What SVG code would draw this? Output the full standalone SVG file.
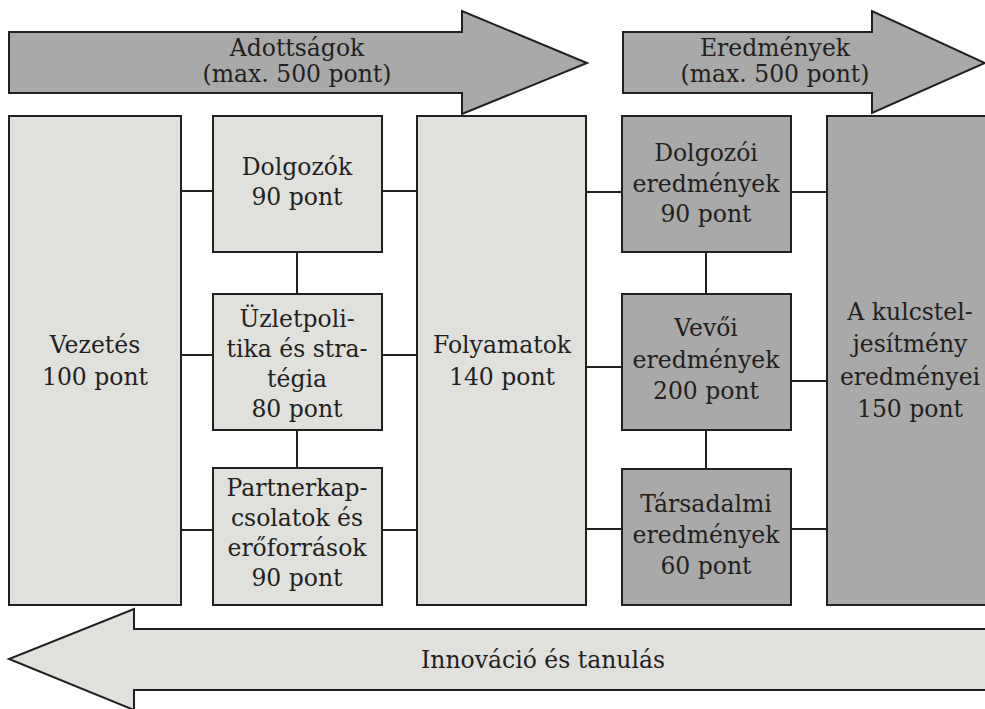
<svg xmlns="http://www.w3.org/2000/svg" width="985" height="709" viewBox="0 0 985 709">
<style>
.dk{fill:#a9a9a9;stroke:#231f20;stroke-width:2}
.lt{fill:#e0e0dd;stroke:#231f20;stroke-width:2}
.ln{stroke:#231f20;stroke-width:2;fill:none}
text{font-family:"DejaVu Serif","Liberation Serif",serif;font-size:23.5px;fill:#231f20;text-anchor:middle}
</style>
<rect width="985" height="709" fill="#ffffff"/>
<g id="arrow-adottsagok">
<polygon class="dk" points="9,32 462,32 462,11 587,63 462,114 462,93 9,93"/>
<text x="297" y="56">Adottságok</text>
<text x="297" y="82">(max. 500 pont)</text>
</g>
<g id="arrow-eredmenyek">
<polygon class="dk" points="623,32 872,32 872,11 985,63 872,113 872,93 623,93"/>
<text x="775" y="56">Eredmények</text>
<text x="775" y="82">(max. 500 pont)</text>
</g>
<g id="arrow-innovacio">
<polygon class="lt" points="990,629 134,629 134,609 9,659 134,710 134,690 990,690"/>
<text x="543" y="668">Innováció és tanulás</text>
</g>
<g id="connectors">
<path class="ln" d="M181,191H213M181,355H213M181,530H213M382,191H417M382,355H417M382,530H417M586,192H622M586,367H622M586,529H622M791,192H827M791,381H827M791,529H827M297,252V294M297,430V468M706,252V294M706,430V469"/>
</g>
<g id="vezetes">
<rect class="lt" x="9" y="116" width="172" height="489"/>
<text x="95" y="353">Vezetés</text>
<text x="95" y="385">100 pont</text>
</g>
<g id="dolgozok">
<rect class="lt" x="213" y="116" width="169" height="136"/>
<text x="297" y="175">Dolgozók</text>
<text x="297" y="205">90 pont</text>
</g>
<g id="uzletpolitika">
<rect class="lt" x="213" y="294" width="169" height="136"/>
<text x="297" y="327">Üzletpoli-</text>
<text x="297" y="357">tika és stra-</text>
<text x="297" y="387">tégia</text>
<text x="297" y="417">80 pont</text>
</g>
<g id="partnerkapcsolatok">
<rect class="lt" x="213" y="468" width="169" height="137"/>
<text x="297" y="496">Partnerkap-</text>
<text x="297" y="526">csolatok és</text>
<text x="297" y="556">erőforrások</text>
<text x="297" y="586">90 pont</text>
</g>
<g id="folyamatok">
<rect class="lt" x="417" y="116" width="169" height="489"/>
<text x="502" y="353">Folyamatok</text>
<text x="502" y="385">140 pont</text>
</g>
<g id="dolgozoi-eredmenyek">
<rect class="dk" x="622" y="116" width="169" height="136"/>
<text x="706" y="161">Dolgozói</text>
<text x="706" y="192">eredmények</text>
<text x="706" y="222">90 pont</text>
</g>
<g id="vevoi-eredmenyek">
<rect class="dk" x="622" y="294" width="169" height="136"/>
<text x="706" y="336">Vevői</text>
<text x="706" y="368">eredmények</text>
<text x="706" y="399">200 pont</text>
</g>
<g id="tarsadalmi-eredmenyek">
<rect class="dk" x="622" y="469" width="169" height="136"/>
<text x="706" y="512">Társadalmi</text>
<text x="706" y="543">eredmények</text>
<text x="706" y="574">60 pont</text>
</g>
<g id="kulcsteljesitmeny">
<rect class="dk" x="827" y="116" width="170" height="489"/>
<text x="910" y="320">A kulcstel-</text>
<text x="910" y="352">jesítmény</text>
<text x="910" y="385">eredményei</text>
<text x="910" y="417">150 pont</text>
</g>
</svg>
